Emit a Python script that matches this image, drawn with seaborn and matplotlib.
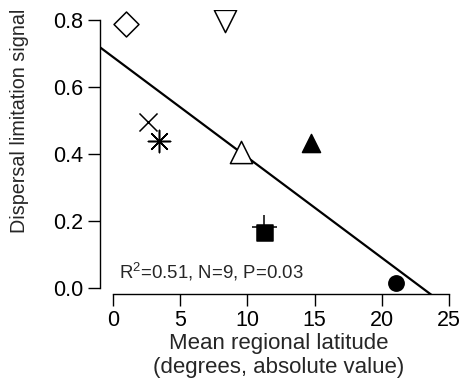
import numpy as np
import pandas as pd
import seaborn as sns
import matplotlib
matplotlib.use("Agg")
import matplotlib.pyplot as plt

# values
latitude = [0.94, 8.33, 2.63, 3.42, 9.52, 14.7, 11.31, 11.2, 21.03]
signal = [0.787, 0.797, 0.496, 0.438, 0.406, 0.431, 0.163, 0.18, 0.014]
markers = ["D", "v", "x", (8, 2, 0), "^", "^", "s", "+", "o"]
filled = [False, False, None, None, False, True, True, None, True]
sizes = [12.7, 16, 13, 16, 16, 13, 11, 18, 11]

x_ticks = [0, 5, 10, 15, 20, 25]
y_ticks = [0.0, 0.2, 0.4, 0.6, 0.8]
stats_text = "R$^2$=0.51, N=9, P=0.03"

df = pd.DataFrame({"lat": latitude, "sig": signal})

sns.set_style("ticks")
plt.rcParams["font.family"] = ["Liberation Sans", "DejaVu Sans"]
plt.rcParams["mathtext.fontset"] = "custom"
plt.rcParams["mathtext.rm"] = "Liberation Sans"

fig = plt.figure(figsize=(4.62, 3.85), dpi=100)
# axes box = R plot region (axes drawn on its edges)
ax = fig.add_axes([100 / 462, 91 / 385, 357 / 462, 284 / 385])
xlim = (-0.97, 25.6)
ylim = (-0.019, 0.83)
ax.set_xlim(xlim)
ax.set_ylim(ylim)

# regression line across the whole plot region
sns.regplot(data=df, x="lat", y="sig", scatter=False, ci=None, truncate=False,
            color="black", line_kws={"linewidth": 1.6}, ax=ax)

for i in range(len(df)):
    m = markers[i]
    if filled[i] is None:
        sns.scatterplot(x=[latitude[i]], y=[signal[i]], marker=m, s=sizes[i] ** 2,
                        color="black", linewidth=1.1, ax=ax, zorder=3)
    else:
        sns.scatterplot(x=[latitude[i]], y=[signal[i]], marker=m, s=sizes[i] ** 2,
                        facecolor="black" if filled[i] else "white",
                        edgecolor="black", linewidth=1.1, ax=ax, zorder=3)

ax.text(0.45, 0.028, stats_text, fontsize=13.4, ha="left", va="baseline")

ax.set_xlim(xlim)
ax.set_ylim(ylim)
ax.set_xticks(x_ticks)
ax.set_yticks(y_ticks)
ax.set_xticklabels([str(t) for t in x_ticks])
ax.set_yticklabels([f"{t:.1f}" for t in y_ticks])
ax.spines["top"].set_visible(False)
ax.spines["right"].set_visible(False)
ax.spines["bottom"].set_bounds(x_ticks[0], x_ticks[-1])
ax.spines["left"].set_bounds(y_ticks[0], y_ticks[-1])
for s in ["bottom", "left"]:
    ax.spines[s].set_linewidth(1.0)
    ax.spines[s].set_color("black")
ax.tick_params(axis="both", direction="out", length=8.3, width=1.0,
               labelsize=15.5, colors="black", pad=3.5)

ax.set_xlabel("Mean regional latitude\n(degrees, absolute value)", fontsize=16,
              linespacing=1.2, labelpad=1)
ax.set_ylabel("Dispersal limitation signal", fontsize=14.2)
ax.yaxis.set_label_coords(-0.2, 0.61)

fig.savefig("out.png", dpi=100)
